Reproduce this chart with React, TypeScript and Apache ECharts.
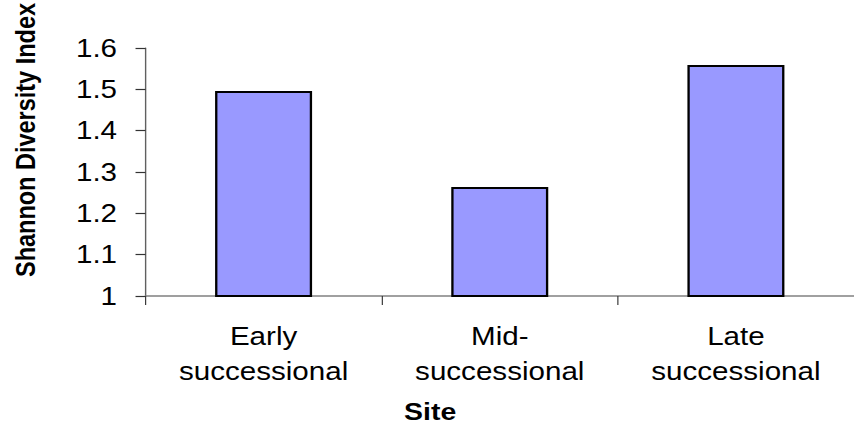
import React, { useEffect, useRef } from "react";
import * as echarts from "echarts";

// Site categories along the x axis (two-line labels)
const sites: string[] = ["Early\nsuccessional", "Mid-\nsuccessional", "Late\nsuccessional"];
// Shannon diversity index per site
const diversity: number[] = [1.496, 1.264, 1.559];
// Value axis range
const yMin = 1;
const yMax = 1.6;
const yStep = 0.1;

const FONT = "'Liberation Sans', Arial, Helvetica, sans-serif";
const OUT_W = 854;
const OUT_H = 432;
// The chart is laid out on a narrower canvas and widened to fill the frame
const CHART_W = 736;
const STRETCH = OUT_W / CHART_W;

export default function App() {
  const ref = useRef<HTMLDivElement>(null);

  useEffect(() => {
    if (!ref.current) return;
    const chart = echarts.init(ref.current, undefined, { renderer: "svg" });
    chart.setOption({
      animation: false,
      backgroundColor: "#ffffff",
      grid: { left: 125.4, top: 48, width: 613.5, bottom: OUT_H - 296, containLabel: false },
      xAxis: {
        type: "category",
        data: sites,
        boundaryGap: true,
        axisLine: { show: true, lineStyle: { color: "#808080", width: 1.5 } },
        axisTick: { show: true, length: 9, inside: false, lineStyle: { color: "#333333", width: 1 } },
        axisLabel: {
          color: "#000000",
          fontFamily: FONT,
          fontSize: 25.5,
          lineHeight: 35,
          margin: 23,
          interval: 0,
        },
        splitLine: { show: false },
      },
      yAxis: {
        type: "value",
        min: yMin,
        max: yMax,
        interval: yStep,
        axisLine: { show: true, lineStyle: { color: "#606060", width: 1.2 } },
        axisTick: { show: true, length: 8.6, inside: false, lineStyle: { color: "#333333", width: 1.2 } },
        axisLabel: {
          color: "#000000",
          fontFamily: FONT,
          fontSize: 25.5,
          margin: 24.5,
        },
        splitLine: { show: false },
      },
      series: [
        {
          type: "bar",
          data: diversity,
          barWidth: 83.6,
          itemStyle: { color: "#9999ff", borderColor: "#000000", borderWidth: 2 },
        },
      ],
      graphic: [
        {
          type: "text",
          x: 21.7,
          y: 140,
          rotation: Math.PI / 2,
          style: {
            text: "Shannon Diversity Index",
            fontFamily: FONT,
            fontSize: 23.5,
            fontWeight: "bold",
            fill: "#000000",
            textAlign: "center",
            textVerticalAlign: "middle",
          },
        },
        {
          type: "text",
          x: 370.7,
          y: 411.5,
          style: {
            text: "Site",
            fontFamily: FONT,
            fontSize: 24.5,
            fontWeight: "bold",
            fill: "#000000",
            textAlign: "center",
            textVerticalAlign: "middle",
          },
        },
      ],
    });
    return () => chart.dispose();
  }, []);

  return (
    <div
      style={{
        position: "fixed",
        left: 0,
        top: 0,
        width: OUT_W,
        height: OUT_H,
        overflow: "hidden",
        background: "#ffffff",
      }}
    >
      <div
        ref={ref}
        style={{
          width: CHART_W,
          height: OUT_H,
          transform: `scaleX(${STRETCH})`,
          transformOrigin: "0 0",
        }}
      />
    </div>
  );
}
